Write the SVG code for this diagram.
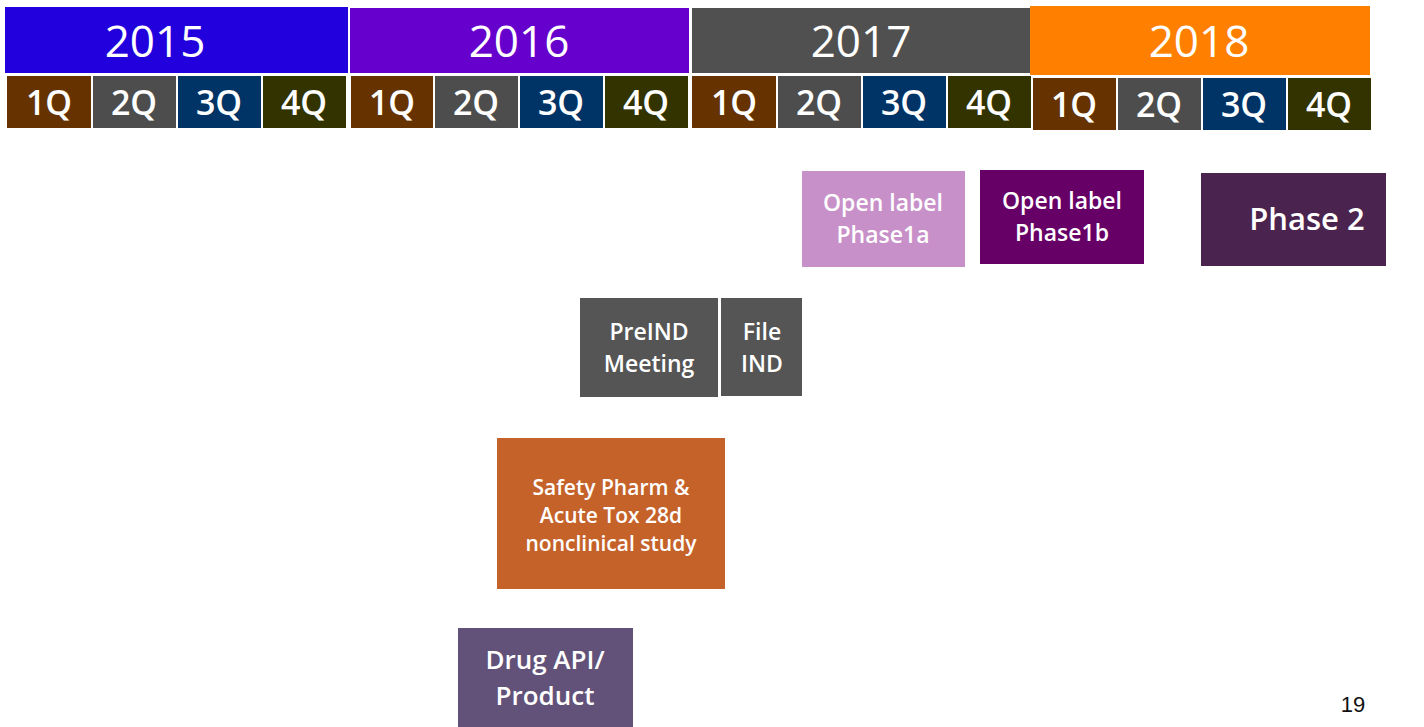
<svg xmlns="http://www.w3.org/2000/svg" width="1424" height="727" viewBox="0 0 1424 727">
<style>
.yr{font-family:"Open Sans","DejaVu Sans",sans-serif;font-size:44px;fill:#fff;text-anchor:middle}
.q{font-family:"Open Sans","DejaVu Sans",sans-serif;font-size:34px;font-weight:600;fill:#fff;text-anchor:middle}
.t{font-family:"Open Sans","DejaVu Sans",sans-serif;font-weight:600;fill:#fff;text-anchor:middle}
.q1{fill:#663300}.q2{fill:#4d4d4d}.q3{fill:#003366}.q4{fill:#333300}
</style>
<rect width="1424" height="727" fill="#fff"/>
<g id="years">
<rect x="5" y="7" width="343" height="66" fill="#2200dd"/><text class="yr" x="155" y="57">2015</text>
<rect x="350" y="8" width="339" height="65" fill="#6600cc"/><text class="yr" x="519" y="57">2016</text>
<rect x="692" y="8" width="338" height="65" fill="#505050"/><text class="yr" x="861" y="57">2017</text>
<rect x="1030" y="6" width="340" height="69" fill="#ff8000"/><text class="yr" x="1199" y="57">2018</text>
</g>
<g id="quarters">
<rect class="q1" x="7" y="76" width="84" height="52"/><text class="q" x="49" y="115">1Q</text>
<rect class="q2" x="93" y="76" width="83" height="52"/><text class="q" x="134" y="115">2Q</text>
<rect class="q3" x="178" y="76" width="83" height="52"/><text class="q" x="219" y="115">3Q</text>
<rect class="q4" x="263" y="76" width="83" height="52"/><text class="q" x="304" y="115">4Q</text>
<rect class="q1" x="351" y="76" width="82" height="52"/><text class="q" x="392" y="115">1Q</text>
<rect class="q2" x="435" y="76" width="83" height="52"/><text class="q" x="476" y="115">2Q</text>
<rect class="q3" x="520" y="76" width="83" height="52"/><text class="q" x="561" y="115">3Q</text>
<rect class="q4" x="605" y="76" width="83" height="52"/><text class="q" x="646" y="115">4Q</text>
<rect class="q1" x="692" y="76" width="84" height="52"/><text class="q" x="734" y="115">1Q</text>
<rect class="q2" x="778" y="76" width="83" height="52"/><text class="q" x="819" y="115">2Q</text>
<rect class="q3" x="863" y="76" width="83" height="52"/><text class="q" x="904" y="115">3Q</text>
<rect class="q4" x="948" y="76" width="83" height="52"/><text class="q" x="989" y="115">4Q</text>
<rect class="q1" x="1033" y="78" width="83" height="52"/><text class="q" x="1074" y="117">1Q</text>
<rect class="q2" x="1118" y="78" width="83" height="52"/><text class="q" x="1159" y="117">2Q</text>
<rect class="q3" x="1203" y="78" width="83" height="52"/><text class="q" x="1244" y="117">3Q</text>
<rect class="q4" x="1288" y="78" width="83" height="52"/><text class="q" x="1329" y="117">4Q</text>
</g>
<g id="phase1a">
<rect x="802" y="171" width="163" height="96" fill="#c890c8"/>
<text class="t" font-size="23" x="883" y="211">Open label</text>
<text class="t" font-size="23" x="883" y="243">Phase1a</text>
</g>
<g id="phase1b">
<rect x="980" y="170" width="164" height="94" fill="#660066"/>
<text class="t" font-size="23" x="1062" y="209">Open label</text>
<text class="t" font-size="23" x="1062" y="241">Phase1b</text>
</g>
<g id="phase2">
<rect x="1201" y="173" width="185" height="93" fill="#4b234f"/>
<text class="t" font-size="31" x="1307" y="230">Phase 2</text>
</g>
<g id="preind">
<rect x="580" y="298" width="138" height="99" fill="#555555"/>
<text class="t" font-size="23" x="649" y="340">PreIND</text>
<text class="t" font-size="23" x="649" y="372">Meeting</text>
</g>
<g id="fileind">
<rect x="721" y="298" width="81" height="98" fill="#555555"/>
<text class="t" font-size="23" x="762" y="340">File</text>
<text class="t" font-size="23" x="762" y="372">IND</text>
</g>
<g id="safety">
<rect x="497" y="438" width="228" height="151" fill="#c5622a"/>
<text class="t" font-size="21" x="611" y="495">Safety Pharm &amp;</text>
<text class="t" font-size="21" x="611" y="523">Acute Tox 28d</text>
<text class="t" font-size="21" x="611" y="551">nonclinical study</text>
</g>
<g id="drug">
<rect x="458" y="628" width="175" height="99" fill="#62527a"/>
<text class="t" font-size="26" x="545" y="669">Drug API/</text>
<text class="t" font-size="26" x="545" y="705">Product</text>
</g>
<g id="connectors"/>
<text x="1353" y="712" font-family="Liberation Sans, sans-serif" font-size="22" fill="#111" text-anchor="middle">19</text>
</svg>
